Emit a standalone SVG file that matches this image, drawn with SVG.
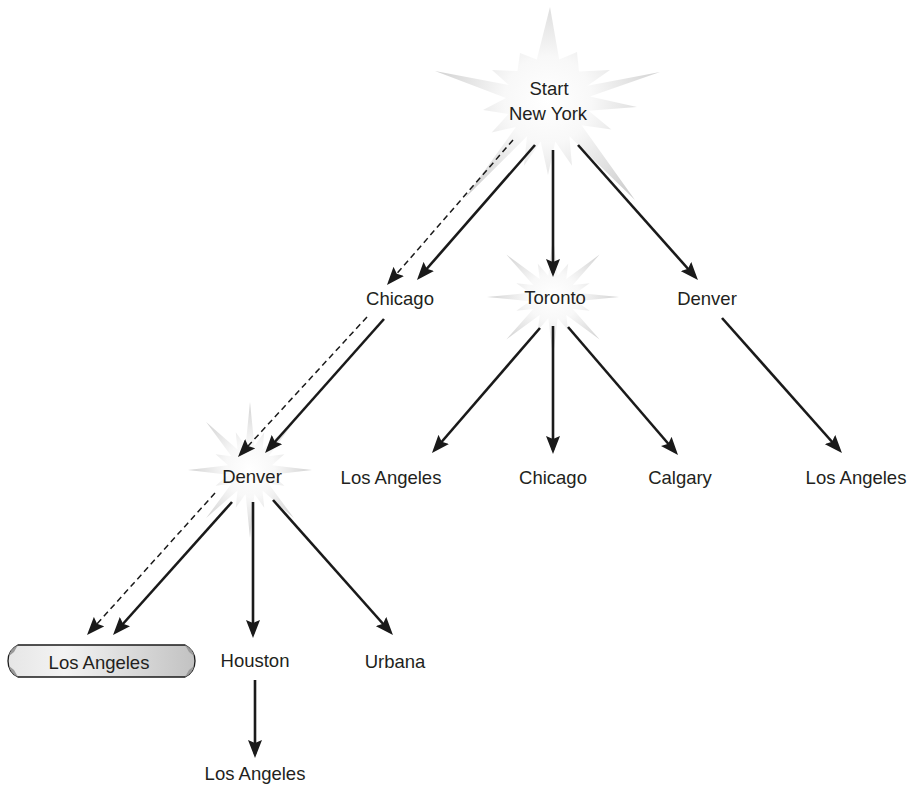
<svg xmlns="http://www.w3.org/2000/svg" width="909" height="788" viewBox="0 0 909 788">
<style>
.t{font-family:"Liberation Sans",Arial,sans-serif;font-size:18.5px;fill:#231f20;text-anchor:middle}
.c{fill:none;stroke:#1a1a1a;stroke-width:2.6;marker-end:url(#ah)}
.d{fill:none;stroke:#1a1a1a;stroke-width:1.5;stroke-dasharray:6 4;marker-end:url(#ah)}
.star{fill:url(#sg)}
</style>
<defs>
<radialGradient id="sg" cx="0.5" cy="0.5" r="0.5">
<stop offset="0" stop-color="#ffffff"/>
<stop offset="0.4" stop-color="#f8f8f8"/>
<stop offset="1" stop-color="#d2d2d2"/>
</radialGradient>
<radialGradient id="nyg" gradientUnits="userSpaceOnUse" cx="548" cy="100" r="125">
<stop offset="0" stop-color="#ffffff"/>
<stop offset="0.35" stop-color="#f8f8f8"/>
<stop offset="1" stop-color="#cdcdcd"/>
</radialGradient>
<linearGradient id="bg" x1="0" y1="0" x2="1" y2="0">
<stop offset="0" stop-color="#e6e6e6"/>
<stop offset="0.3" stop-color="#f3f3f3"/>
<stop offset="1" stop-color="#c2c2c2"/>
</linearGradient>
<path id="ustar" d="M100,0 L35.4,7.1 L55.4,23 L30,20.1 L70.7,70.7 L20.1,30 L23,55.4 L7.1,35.4 L0,100 L-7.1,35.4 L-23,55.4 L-20.1,30 L-70.7,70.7 L-30,20.1 L-55.4,23 L-35.4,7.1 L-100,0 L-35.4,-7.1 L-55.4,-23 L-30,-20.1 L-70.7,-70.7 L-20.1,-30 L-23,-55.4 L-7.1,-35.4 L0,-100 L7.1,-35.4 L23,-55.4 L20.1,-30 L70.7,-70.7 L30,-20.1 L55.4,-23 L35.4,-7.1 Z"/>
<marker id="ah" markerUnits="userSpaceOnUse" viewBox="0 0 18 14" refX="14" refY="7" markerWidth="18" markerHeight="14" orient="auto">
<path d="M0,0 L18,7 L0,14 L3,7 Z" fill="#1a1a1a"/>
</marker>
</defs>
<rect width="909" height="788" fill="#ffffff"/>

<g id="node-ny">
<path fill="url(#nyg)" d="M435,71 L508.8,84.9 L492,70 L517.5,71.1 L520,53 L536.8,59.5 L550,7 L559.2,59.5 L577,52 L579,71.6 L610,70 L587.5,85.7 L660,72 L589.9,96.5 L637,107 L588.6,110.7 L611.4,129.6 L581.6,125.3 L635,200 L569.4,136.2 L572,165.8 L555.3,141.4 L548,175 L540.7,141.4 L524,165.8 L527,136.3 L465,198 L515.9,127 L491.7,132.5 L508.5,114 L483,110 L506,98.1 Z"/>
<text class="t" x="549" y="95">Start</text>
<text class="t" x="548" y="120">New York</text>
</g>

<g id="node-chicago1"><text class="t" x="400" y="305">Chicago</text></g>

<g id="node-toronto">
<use href="#ustar" class="star" transform="translate(553,297) scale(0.66,0.6)"/>
<text class="t" x="555" y="304">Toronto</text>
</g>

<g id="node-denver1"><text class="t" x="707" y="305">Denver</text></g>

<g id="node-denver2">
<use href="#ustar" class="star" transform="translate(250,470) scale(0.62,0.68)"/>
<text class="t" x="252" y="483">Denver</text>
</g>

<g id="node-la-toronto"><text class="t" x="391" y="484">Los Angeles</text></g>
<g id="node-chicago2"><text class="t" x="553" y="484">Chicago</text></g>
<g id="node-calgary"><text class="t" x="680" y="484">Calgary</text></g>
<g id="node-la-denver1"><text class="t" x="856" y="484">Los Angeles</text></g>

<g id="node-la-goal">
<path d="M18,645 H185 Q195,650 195,661 Q195,672 185,677 H18 Q8,672 8,661 Q8,650 18,645 Z" fill="url(#bg)" stroke="#1a1a1a" stroke-width="1.3"/>
<path d="M18,645 L14,652 L9,656 Q10,649 18,645 Z M185,645 L189,652 L194,656 Q193,649 185,645 Z M18,677 L14,670 L9,666 Q10,673 18,677 Z M185,677 L189,670 L194,666 Q193,673 185,677 Z" fill="#9a9a9a"/>
<text class="t" x="99" y="669">Los Angeles</text>
</g>

<g id="node-houston"><text class="t" x="255" y="667">Houston</text></g>
<g id="node-urbana"><text class="t" x="395" y="668">Urbana</text></g>
<g id="node-la-houston"><text class="t" x="255" y="780">Los Angeles</text></g>

<g id="connectors">
<path class="c" d="M535,145 L419.6,277"/>
<path class="d" d="M513,140 L389.6,282"/>
<path class="c" d="M553,150 L553,273"/>
<path class="c" d="M578,145 L695.3,277"/>
<path class="c" d="M384,319 L267.7,450"/>
<path class="d" d="M367,317 L240.7,454"/>
<path class="c" d="M540,328 L434.6,450"/>
<path class="c" d="M553,326 L553,450"/>
<path class="c" d="M568,327 L675.4,452"/>
<path class="c" d="M722,318 L839.3,450"/>
<path class="c" d="M232,502 L115.7,632"/>
<path class="d" d="M215,493 L89.7,632"/>
<path class="c" d="M253,502 L253,634"/>
<path class="c" d="M273,500 L390.3,632"/>
<path class="c" d="M255,680 L255,754"/>
</g>
</svg>
